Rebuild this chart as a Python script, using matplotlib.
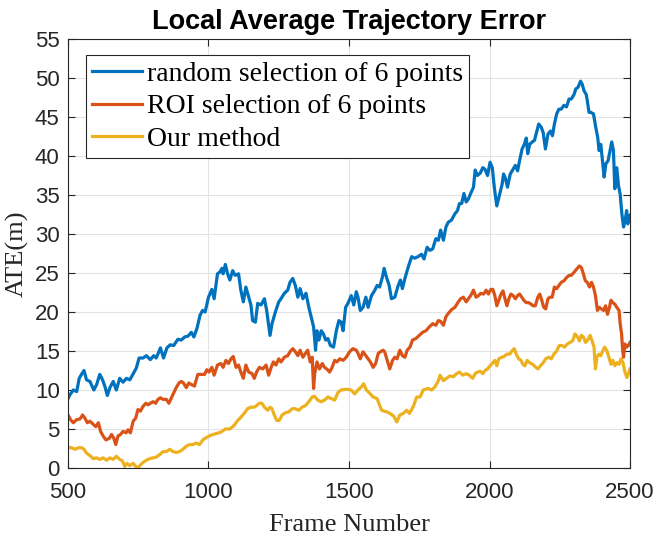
import matplotlib
matplotlib.use('Agg')
import matplotlib.pyplot as plt

plt.rcParams['font.family'] = ['Liberation Sans', 'DejaVu Sans']

# random selection of 6 points
frame_rand = [500, 507, 519, 531, 540, 548, 557, 566, 578, 592, 602, 613, 623, 631, 640, 649, 661, 672,
              684, 696, 708, 720, 734, 743, 753, 767, 779, 793, 805, 814, 829, 840, 852, 864, 876, 891,
              903, 915, 927, 939, 948, 959, 970, 979, 988, 1000, 1012, 1020, 1032, 1040, 1048, 1052,
              1060, 1068, 1076, 1086, 1095, 1107, 1115, 1124, 1133, 1143, 1151, 1157, 1167, 1175, 1187,
              1199, 1207, 1219, 1226, 1238, 1250, 1258, 1270, 1282, 1290, 1300, 1309, 1318, 1326, 1336,
              1347, 1357, 1365, 1374, 1381, 1386, 1393, 1401, 1409, 1417, 1425, 1434, 1445, 1455, 1464,
              1472, 1479, 1488, 1496, 1508, 1517, 1526, 1532, 1540, 1550, 1560, 1568, 1580, 1592, 1600,
              1609, 1619, 1625, 1633, 1643, 1651, 1663, 1675, 1683, 1690, 1699, 1711, 1723, 1734, 1746,
              1758, 1767, 1778, 1788, 1798, 1809, 1818, 1826, 1836, 1845, 1853, 1865, 1877, 1886, 1893,
              1901, 1909, 1917, 1925, 1933, 1943, 1949, 1957, 1967, 1976, 1984, 1993, 2002, 2010, 2017,
              2026, 2036, 2045, 2050, 2057, 2064, 2074, 2084, 2092, 2100, 2107, 2116, 2124, 2131, 2136,
              2143, 2152, 2160, 2167, 2175, 2184, 2191, 2199, 2208, 2217, 2224, 2231, 2239, 2247, 2255,
              2265, 2274, 2283, 2291, 2301, 2307, 2315, 2324, 2330, 2336, 2344, 2348, 2354, 2360, 2370,
              2378, 2385, 2390, 2396, 2402, 2408, 2414, 2422, 2429, 2435, 2441, 2446, 2453, 2459, 2465,
              2471, 2477, 2483, 2488, 2492, 2497, 2500]
ate_rand = [8.9, 9.4, 10.0, 9.8, 11.5, 12.0, 12.5, 11.3, 11.1, 10.0, 10.7, 12.0, 11.3, 10.5, 9.3, 10.3,
            11.1, 10.0, 11.5, 11.0, 11.5, 11.3, 12.2, 12.8, 14.1, 14.1, 14.4, 13.9, 14.4, 14.1, 15.4,
            14.1, 15.4, 15.8, 15.7, 16.5, 16.4, 16.8, 16.9, 17.4, 16.8, 17.9, 19.6, 20.2, 20.0, 21.9,
            22.9, 21.7, 24.9, 25.1, 25.6, 24.9, 26.1, 24.9, 24.1, 25.3, 24.7, 24.9, 22.8, 21.3, 23.2,
            21.9, 20.9, 18.9, 18.7, 21.1, 20.9, 21.7, 20.2, 17.0, 18.5, 20.0, 21.3, 21.7, 22.4, 22.8,
            23.8, 24.3, 23.4, 21.9, 23.0, 21.7, 22.4, 20.6, 19.4, 18.1, 15.1, 17.6, 16.4, 17.6, 17.2,
            16.4, 16.6, 15.7, 15.5, 17.6, 18.9, 18.7, 17.6, 20.6, 21.1, 22.1, 20.9, 22.6, 21.9, 20.2,
            20.6, 21.9, 20.6, 22.1, 22.8, 23.4, 23.2, 24.5, 25.6, 24.5, 23.4, 21.7, 21.9, 23.4, 24.1,
            23.0, 24.3, 25.8, 27.1, 26.9, 27.1, 27.4, 26.8, 28.3, 27.9, 28.1, 29.4, 29.2, 30.5, 29.2,
            30.9, 31.5, 31.8, 32.6, 33.0, 33.9, 33.9, 35.2, 34.1, 34.5, 35.2, 36.0, 38.2, 37.5, 37.8,
            38.5, 38.3, 37.5, 39.2, 38.5, 36.0, 33.6, 35.1, 36.4, 37.7, 37.1, 36.0, 37.7, 38.3, 38.8,
            38.1, 39.4, 40.9, 41.5, 42.3, 40.3, 41.5, 41.8, 42.0, 43.0, 44.1, 43.7, 43.0, 40.9, 42.8,
            43.2, 42.6, 44.1, 45.4, 46.0, 46.0, 46.5, 46.3, 47.3, 47.3, 47.9, 48.6, 48.8, 49.6, 49.2,
            48.4, 47.9, 47.1, 45.6, 45.6, 45.4, 43.7, 42.4, 40.7, 41.5, 39.4, 37.3, 39.0, 39.4, 40.7,
            41.8, 40.7, 35.8, 38.5, 36.2, 35.1, 32.6, 30.9, 31.8, 33.0, 31.3, 32.1, 32.4]

# ROI selection of 6 points
frame_roi = [500, 509, 519, 531, 543, 552, 560, 569, 578, 590, 599, 608, 616, 625, 635, 647, 655, 663,
             670, 678, 687, 696, 706, 714, 722, 732, 741, 749, 758, 767, 777, 785, 793, 803, 812, 820,
             829, 838, 850, 859, 868, 876, 885, 895, 903, 911, 921, 930, 939, 950, 962, 974, 986, 994,
             1002, 1012, 1020, 1032, 1044, 1052, 1062, 1071, 1080, 1088, 1098, 1107, 1115, 1124, 1133,
             1143, 1155, 1163, 1171, 1181, 1193, 1205, 1214, 1223, 1231, 1240, 1250, 1258, 1270, 1282,
             1290, 1300, 1309, 1318, 1326, 1336, 1345, 1353, 1362, 1369, 1374, 1378, 1386, 1395, 1405,
             1413, 1421, 1431, 1440, 1449, 1457, 1467, 1479, 1490, 1502, 1514, 1526, 1532, 1540, 1550,
             1560, 1568, 1576, 1586, 1595, 1604, 1612, 1621, 1627, 1636, 1645, 1655, 1663, 1671, 1681,
             1690, 1699, 1707, 1717, 1726, 1738, 1750, 1762, 1774, 1786, 1798, 1809, 1818, 1826, 1836,
             1845, 1853, 1865, 1877, 1889, 1897, 1907, 1917, 1925, 1933, 1943, 1952, 1961, 1969, 1979,
             1988, 1996, 2005, 2012, 2019, 2026, 2033, 2041, 2048, 2055, 2062, 2069, 2076, 2084, 2092,
             2100, 2107, 2115, 2122, 2131, 2140, 2148, 2155, 2163, 2172, 2179, 2186, 2193, 2200, 2208,
             2215, 2223, 2231, 2239, 2247, 2255, 2265, 2274, 2283, 2291, 2301, 2310, 2320, 2327, 2334,
             2341, 2348, 2356, 2363, 2370, 2377, 2384, 2391, 2398, 2406, 2413, 2420, 2427, 2432, 2439,
             2446, 2453, 2461, 2465, 2470, 2474, 2477, 2482, 2488, 2494, 2500]
ate_roi = [6.8, 6.2, 5.8, 6.2, 6.3, 6.8, 6.4, 5.8, 6.0, 5.6, 5.3, 5.8, 4.7, 4.1, 3.6, 3.8, 4.3, 3.8,
           3.0, 4.1, 4.3, 4.7, 4.5, 4.9, 4.5, 6.0, 6.4, 7.5, 7.3, 7.9, 8.3, 8.1, 8.3, 8.5, 8.3, 8.8,
           9.0, 8.8, 8.8, 8.3, 9.0, 9.6, 10.3, 10.9, 11.1, 10.9, 10.3, 10.9, 10.7, 10.5, 12.0, 12.0,
           12.0, 12.6, 12.3, 12.9, 11.9, 13.2, 13.4, 12.9, 13.8, 13.4, 14.0, 14.3, 12.9, 13.2, 12.3,
           11.5, 13.2, 12.3, 12.1, 11.5, 12.3, 12.9, 12.7, 13.2, 11.9, 12.9, 13.6, 13.2, 14.0, 13.6,
           14.2, 14.4, 14.9, 15.3, 14.9, 14.4, 15.1, 14.2, 14.7, 15.1, 13.6, 14.2, 10.2, 12.1, 13.6,
           12.7, 13.4, 12.9, 12.7, 12.3, 12.9, 13.8, 13.6, 14.0, 13.8, 14.2, 14.9, 15.3, 15.1, 14.7,
           14.0, 14.9, 14.4, 14.0, 13.6, 12.9, 13.4, 14.7, 14.9, 15.1, 14.9, 13.8, 12.7, 13.8, 14.2,
           14.0, 15.1, 14.4, 14.2, 15.1, 15.5, 16.4, 16.6, 17.0, 17.4, 17.6, 18.1, 18.5, 18.3, 18.9,
           18.8, 18.3, 19.4, 19.8, 20.3, 20.6, 21.3, 21.7, 21.9, 21.3, 21.7, 22.1, 22.8, 21.9, 22.1,
           22.4, 22.3, 22.8, 22.3, 22.9, 22.9, 22.1, 20.8, 21.5, 22.3, 22.7, 21.7, 20.8, 21.7, 22.3,
           22.1, 21.7, 22.1, 22.3, 21.9, 21.5, 21.2, 21.2, 21.0, 20.8, 20.8, 21.9, 22.3, 21.5, 20.6,
           20.4, 21.7, 21.9, 21.9, 23.2, 23.0, 23.4, 23.8, 24.0, 24.4, 24.7, 24.7, 25.1, 25.5, 25.9,
           25.7, 24.9, 24.0, 23.8, 23.2, 23.8, 23.2, 22.1, 20.2, 20.6, 20.4, 20.2, 20.8, 19.7, 20.6,
           21.5, 21.2, 21.0, 20.6, 20.2, 18.5, 17.2, 15.0, 14.2, 15.9, 15.5, 15.7, 16.1]

# Our method
frame_our = [500, 513, 525, 537, 548, 557, 566, 578, 590, 602, 613, 625, 637, 649, 661, 672, 684, 694,
             702, 710, 720, 732, 741, 749, 758, 767, 779, 791, 803, 814, 826, 838, 850, 862, 874, 885,
             897, 909, 921, 933, 944, 956, 968, 980, 992, 1008, 1026, 1044, 1060, 1076, 1092, 1104,
             1115, 1127, 1139, 1151, 1163, 1171, 1181, 1190, 1199, 1211, 1219, 1226, 1234, 1243, 1252,
             1262, 1274, 1286, 1298, 1309, 1321, 1333, 1345, 1357, 1369, 1377, 1389, 1401, 1413, 1425,
             1437, 1449, 1461, 1472, 1490, 1508, 1520, 1532, 1544, 1552, 1562, 1576, 1586, 1600, 1616,
             1634, 1646, 1660, 1670, 1681, 1693, 1705, 1715, 1729, 1741, 1753, 1764, 1782, 1794, 1806,
             1818, 1824, 1836, 1847, 1859, 1871, 1883, 1893, 1905, 1917, 1928, 1940, 1949, 1957, 1967,
             1976, 1984, 1993, 2002, 2012, 2019, 2026, 2033, 2043, 2052, 2062, 2072, 2080, 2088, 2095,
             2104, 2112, 2119, 2126, 2134, 2143, 2153, 2162, 2172, 2181, 2191, 2200, 2210, 2220, 2229,
             2239, 2248, 2258, 2267, 2277, 2286, 2296, 2304, 2313, 2320, 2327, 2334, 2342, 2351, 2358,
             2365, 2372, 2377, 2382, 2389, 2396, 2403, 2410, 2418, 2425, 2432, 2439, 2446, 2453, 2461,
             2468, 2475, 2482, 2489, 2496, 2500]
ate_our = [2.6, 2.6, 2.4, 2.6, 2.6, 2.4, 1.9, 1.6, 1.2, 1.3, 1.1, 1.3, 1.0, 1.3, 1.1, 1.5, 1.1, 0.9,
           0.2, 0.6, 0.3, 0.6, 0.2, 0.0, 0.4, 0.7, 1.0, 1.2, 1.3, 1.4, 1.7, 2.1, 2.1, 2.4, 2.1, 2.0,
           2.1, 2.4, 2.8, 3.0, 3.0, 3.2, 3.0, 3.6, 3.9, 4.2, 4.4, 4.6, 5.0, 5.0, 5.5, 6.1, 6.5, 7.0,
           7.6, 7.8, 7.8, 8.0, 8.3, 8.3, 7.8, 7.4, 7.8, 7.6, 6.8, 6.1, 6.1, 6.8, 7.1, 7.2, 7.6, 7.6,
           7.4, 7.8, 8.0, 8.5, 9.1, 9.2, 8.7, 8.5, 8.7, 9.1, 8.9, 8.7, 9.7, 10.0, 10.1, 10.0, 9.5,
           10.0, 10.4, 10.8, 10.0, 9.5, 9.1, 8.9, 7.4, 7.2, 7.0, 6.6, 5.9, 6.8, 7.0, 7.4, 7.0, 7.9,
           9.1, 9.1, 10.0, 10.2, 10.0, 10.4, 11.2, 11.9, 11.2, 11.5, 11.8, 11.7, 12.1, 12.3, 11.9,
           12.1, 11.9, 11.5, 12.1, 12.3, 12.4, 12.1, 12.5, 12.7, 13.1, 13.5, 13.8, 13.1, 14.0, 14.2,
           14.3, 14.6, 14.6, 15.0, 15.3, 14.6, 14.0, 13.8, 13.3, 13.1, 13.8, 13.5, 13.3, 13.0, 12.7,
           13.1, 13.5, 14.0, 14.2, 14.0, 14.6, 15.0, 15.7, 15.7, 15.5, 15.9, 16.1, 16.3, 17.2, 16.8,
           16.3, 17.0, 16.8, 16.1, 16.5, 17.0, 16.3, 15.5, 12.7, 14.2, 14.6, 14.4, 15.0, 15.5, 15.0,
           14.2, 13.3, 13.8, 13.1, 13.5, 13.3, 14.0, 13.5, 12.3, 11.6, 12.3, 12.7]

labels = ['random selection of 6 points', 'ROI selection of 6 points', 'Our method']
colors = ['#0072BD', '#D95319', '#EDB120']

fig = plt.figure(figsize=(6.64, 5.44), dpi=100)
ax = fig.add_axes([0.1024, 0.1397, 0.8464, 0.7886])

ax.plot(frame_rand, ate_rand, color=colors[0], lw=2.3, label=labels[0])
ax.plot(frame_roi, ate_roi, color=colors[1], lw=2.3, label=labels[1])
ax.plot(frame_our, ate_our, color=colors[2], lw=2.3, label=labels[2])

ax.set_xlim(500, 2500)
ax.set_ylim(0, 55)
ax.set_xticks([500, 1000, 1500, 2000, 2500])
ax.set_yticks(range(0, 56, 5))
ax.tick_params(direction='in', top=True, right=True, labelsize=16, length=5,
               color='#262626', labelcolor='#262626', width=0.8)
ax.tick_params(axis='x', pad=10)
ax.tick_params(axis='y', pad=6)
ax.grid(True, color='#e3e3e3', linewidth=0.8)
ax.set_axisbelow(True)
for s in ax.spines.values():
    s.set_color('#262626')
    s.set_linewidth(0.8)

ax.set_title('Local Average Trajectory Error', fontsize=19.5, fontweight='bold', pad=7)
ax.set_xlabel('Frame Number', fontsize=19, family='Liberation Serif', color='#262626', labelpad=8)
ax.set_ylabel('ATE(m)', fontsize=19, family='Liberation Serif', color='#262626', labelpad=4)

leg = ax.legend(loc='upper left', bbox_to_anchor=(0.032, 0.962), prop={'family': 'Liberation Serif', 'size': 20},
                fancybox=False, edgecolor='#262626', framealpha=1, handlelength=1.8,
                borderpad=0.22, labelspacing=0.25, handletextpad=0.18, borderaxespad=0)
leg.get_frame().set_linewidth(0.8)

fig.savefig('out.png', dpi=100)
